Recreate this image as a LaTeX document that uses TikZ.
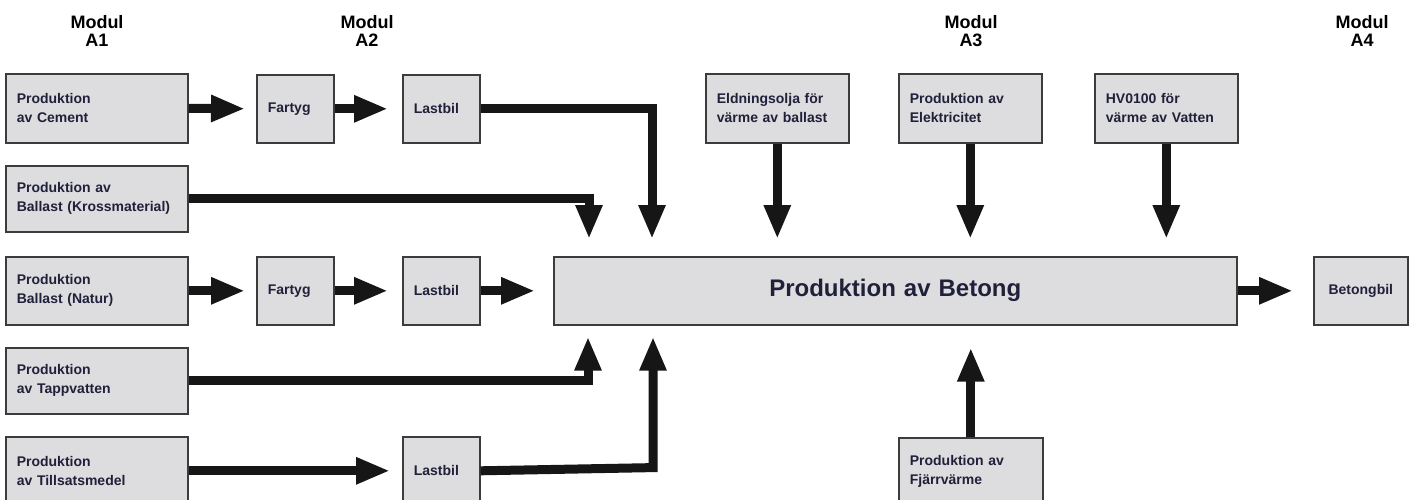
\documentclass[tikz,border=0pt]{standalone}
\usepackage{fontspec}
\setmainfont{Liberation Sans}
\usetikzlibrary{arrows.meta,calc}
\definecolor{boxfill}{RGB}{221,221,223}
\definecolor{boxline}{RGB}{60,60,60}
\definecolor{txt}{RGB}{32,32,58}
\definecolor{arr}{RGB}{22,22,22}
\begin{document}
\begin{tikzpicture}[x=0.5pt,y=-0.5pt,
  box/.style={draw=boxline, fill=boxfill, line width=0.8pt, anchor=north west,
    inner xsep=5.5pt, inner ysep=0pt, align=left, text=txt,
    font=\bfseries\fontsize{7}{9.5}\selectfont},
  wide/.style={box, minimum width=91pt, text width=80pt},
  small/.style={box, minimum width=38.5pt, text width=27.5pt},
  top/.style={box, minimum width=71.5pt, text width=60.5pt},
  rowh/.style={minimum height=34pt},
  hdr/.style={align=center, text=black, font=\bfseries\fontsize{9}{9}\selectfont, inner sep=0pt},
  flow/.style={draw=arr, line width=4.5pt, line join=miter,
    -{Triangle[length=17pt,width=12.5pt]}}]
\useasboundingbox (0,0) rectangle (1410,499);
\clip (0,0) rectangle (1410,499);

% headers
\node[hdr] (hA1) at (97,31) {Modul\\A1};
\node[hdr] (hA2) at (367,31) {Modul\\A2};
\node[hdr] (hA3) at (971,31) {Modul\\A3};
\node[hdr] (hA4) at (1362,31) {Modul\\A4};

% row 1
\node[wide, minimum height=34.5pt] (cement) at (5,73) {Produktion\\av Cement};
\node[small, rowh] (fartygA) at (256,74) {Fartyg};
\node[small, rowh] (lastbilA) at (402,74) {Lastbil};

% top inputs
\node[top, minimum height=34.5pt] (eld) at (705,73) {Eldningsolja för\\värme av ballast};
\node[top, minimum height=34.5pt] (el) at (898,73) {Produktion av\\Elektricitet};
\node[top, minimum height=34.5pt] (hvo) at (1094,73) {HV0100 för\\värme av Vatten};

% row 2
\node[wide, minimum height=33pt] (kross) at (5,165) {Produktion av\\Ballast (Krossmaterial)};

% row 3
\node[wide, rowh] (natur) at (5,256) {Produktion\\Ballast (Natur)};
\node[small, rowh] (fartygB) at (256,256) {Fartyg};
\node[small, rowh] (lastbilB) at (402,256) {Lastbil};
\node[box, rowh, minimum width=341.5pt, text width=330.5pt, align=center,
      font=\bfseries\fontsize{12}{14}\selectfont] (betong) at (553,256) {Produktion av Betong};
\node[box, rowh, minimum width=47pt, text width=36pt, align=center] (betongbil) at (1313,256) {Betongbil};

% row 4
\node[wide, minimum height=33pt] (tapp) at (5,347) {Produktion\\av Tappvatten};

% row 5
\node[wide, rowh] (tillsats) at (5,436) {Produktion\\av Tillsatsmedel};
\node[small, rowh] (lastbilC) at (402,436) {Lastbil};
\node[top, rowh, minimum width=72pt, text width=61pt] (fjarr) at (898,437) {Produktion av\\Fjärrvärme};

% entry points on the concrete box
\path (betong.north west) ++(36,0) coordinate (inKross);
\path (betong.north west) ++(99,0) coordinate (inLastbilA);
\path (betong.south west) ++(35,0) coordinate (inTapp);
\path (betong.south west) ++(100,0) coordinate (inLastbilC);
\path (inLastbilC) ++(0,142) coordinate (cornerC);

% horizontal flows
\draw[flow, shorten >=5.5pt] (cement.east) -- (fartygA.west);
\draw[flow, shorten >=7pt] (fartygA.east) -- (lastbilA.west);
\draw[flow, shorten >=5.5pt] (natur.east) -- (fartygB.west);
\draw[flow, shorten >=7pt] (fartygB.east) -- (lastbilB.west);
\draw[flow, shorten >=9pt] (lastbilB.east) -- (betong.west);
\draw[flow, shorten >=10pt] (betong.east) -- (betongbil.west);
\draw[flow, shorten >=6pt] (tillsats.east) -- (lastbilC.west);

% elbow flows
\draw[flow, shorten >=8.5pt] (lastbilA.east) -| (inLastbilA);
\draw[flow, shorten >=8.5pt] (kross.east) -| (inKross);
\draw[flow, shorten >=5.5pt] (tapp.east) -| (inTapp);
\draw[flow, shorten >=5.5pt] (lastbilC.east) -- (cornerC) -- (inLastbilC);

% vertical flows
\draw[flow, shorten >=8.5pt] (eld.south) -- (eld.south |- betong.north);
\draw[flow, shorten >=8.5pt] (el.south) -- (el.south |- betong.north);
\draw[flow, shorten >=8.5pt] (hvo.south) -- (hvo.south |- betong.north);
\draw[flow, shorten >=11pt] (fjarr.north) -- (fjarr.north |- betong.south);
\end{tikzpicture}
\end{document}
